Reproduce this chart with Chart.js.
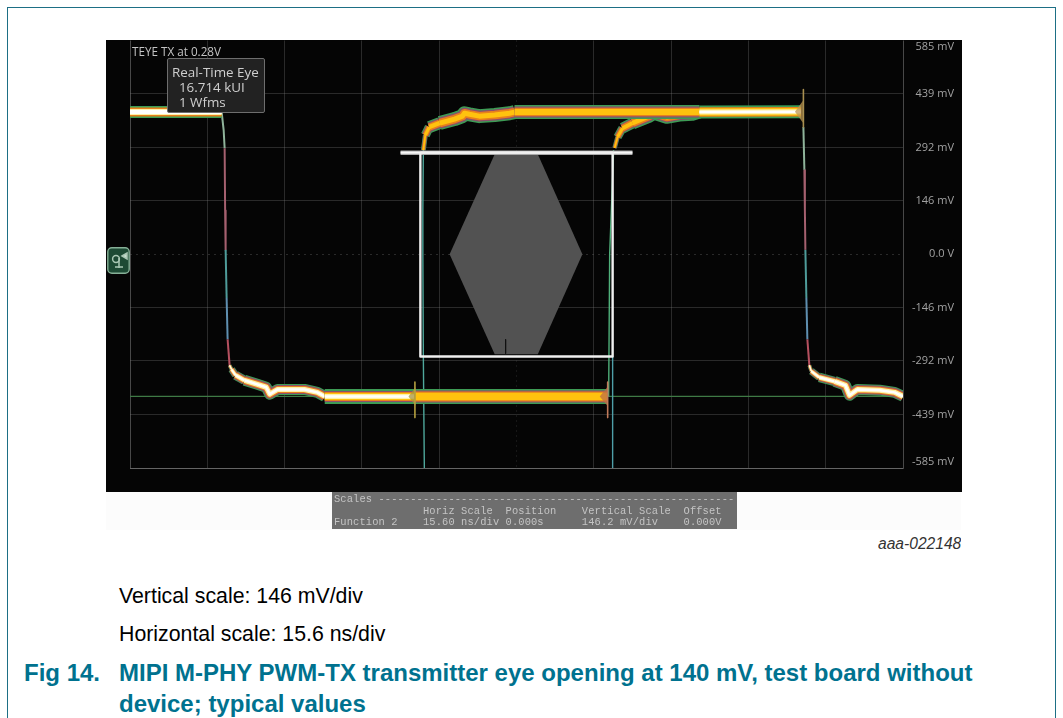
<!DOCTYPE html>
<html>
<head>
<meta charset="utf-8">
<title>MIPI M-PHY PWM-TX eye</title>
<script src="https://cdn.jsdelivr.net/npm/chart.js@4"></script>
<style>
  html, body { margin: 0; padding: 0; background: #fff; width: 1063px; height: 718px; overflow: hidden; font-family: "Liberation Sans", Arial, sans-serif; }
  .abs { position: absolute; white-space: pre; }
  #frameTop { position: absolute; left: 7px; right: 7px; top: 7px; height: 1px; background: #1d6f85; }
  #frameLeft { position: absolute; left: 7px; top: 7px; bottom: 0; width: 1px; background: #1d6f85; }
  #frameRight { position: absolute; right: 7px; top: 7px; bottom: 0; width: 1px; background: #1d6f85; }
  #scope { position: absolute; left: 106px; top: 40px; width: 856px; height: 452px; background: #050505; }
  #scope canvas { filter: blur(0.6px); }
  #haze { position: absolute; left: 106px; top: 492px; width: 855px; height: 38px; background: #fcfcfc; }
  #scales { position: absolute; left: 332px; top: 492px; width: 405px; height: 37px; background: #6e6e6e; color: #c4c4c4; font: 10.4px/11.5px "Liberation Mono", monospace; letter-spacing: 0.12px; filter: blur(0.5px); white-space: pre; padding-left: 2px; box-sizing: border-box; padding-top: 2px; overflow: hidden; }
  #teye { left: 132px; top: 43px; color: #c4c4c4; font: 11.7px "Open Sans", sans-serif; filter: blur(0.3px); }
  #readout { position: absolute; left: 167px; top: 58px; width: 98px; height: 55px; background: #222; border: 1px solid #6e6e6e; border-radius: 2px; color: #cfcfcf; font: 13.4px/15px "Open Sans", sans-serif; white-space: pre; padding: 6px 0 0 4px; box-sizing: border-box; filter: blur(0.3px); }
  #btn { position: absolute; left: 107px; top: 247px; width: 23px; height: 27px; filter: blur(0.5px); }
  #tag { left: 878px; top: 535px; width: 83px; overflow: hidden; color: #333; font: italic 15.6px "Liberation Sans", Arial, sans-serif; }
  .note { left: 119px; color: #000; font-size: 21.3px; }
  .fig { color: #00728f; font-weight: bold; font-size: 24px; }
</style>
</head>
<body>
<div id="frameTop"></div><div id="frameLeft"></div><div id="frameRight"></div>
<div id="haze"></div>
<div id="scope"><canvas id="eye" width="856" height="452"></canvas></div>
<div id="teye" class="abs">TEYE TX at 0.28V</div>
<div id="readout">Real-Time Eye
  16.714 kUI
  1 Wfms</div>
<svg id="btn" viewBox="0 0 23 27">
  <rect x="0.8" y="0.8" width="21.4" height="25.4" rx="4" fill="#1d4a34" stroke="#86b097" stroke-width="1.4"/>
  <circle cx="9" cy="12" r="3.4" fill="none" stroke="#a9c7b4" stroke-width="1.5"/>
  <path d="M12 11 L12 21 M15 9 L20 6 L20 12 Z M8 20 L16 20" stroke="#a9c7b4" stroke-width="1.5" fill="#c9dccf"/>
</svg>
<div id="scales">Scales --------------------------------------------------------
              Horiz Scale  Position    Vertical Scale  Offset
Function 2    15.60 ns/div 0.000s      146.2 mV/div    0.000V</div>
<div id="tag" class="abs">aaa-022148</div>
<div class="abs note" style="top:584px">Vertical scale: 146 mV/div</div>
<div class="abs note" style="top:622px">Horizontal scale: 15.6 ns/div</div>
<div class="abs fig" style="left:24px;top:659px">Fig 14.</div>
<div class="abs fig" style="left:119px;top:659px">MIPI M-PHY PWM-TX transmitter eye opening at 140 mV, test board without</div>
<div class="abs fig" style="left:119px;top:690px">device; typical values</div>

<script>
// axis ticks
const xTicks = [-78, -62.4, -46.8, -31.2, -15.6, 0, 15.6, 31.2, 46.8, 62.4, 78];
const xTickLabels = ["-78.0 ns", "-62.4 ns", "-46.8 ns", "-31.2 ns", "-15.6 ns", "0.0 s", "15.6 ns", "31.2 ns", "46.8 ns", "62.4 ns", "78.0 ns"];
const yTicks = [-585, -439, -292, -146, 0, 146, 292, 439, 585];
const yTickLabels = ["-585 mV", "-439 mV", "-292 mV", "-146 mV", "0.0 V", "146 mV", "292 mV", "439 mV", "585 mV"];

// waveform pieces, [ns, mV]
const highLeft = [[-78, 389], [-59.5, 389]];
const fallLeft = [[-59.5, 389], [-59.1, 340], [-58.9, 290], [-58.8, 120], [-58.7, 12], [-58.5, -120], [-58.3, -233], [-57.9, -304]];
const lowLeft = [[-57.9, -304], [-57.5, -315], [-56.7, -331], [-54.9, -345], [-52.3, -356], [-50.5, -364], [-49.8, -383], [-48.2, -370], [-42.8, -370], [-40.2, -378], [-38.7, -389]];
const lowFlat = [[-38.7, -389], [-20.6, -389]];
const eyeFlat = [[-20.6, -389], [18.4, -389]];
const riseA = [[-18.8, 285], [-18.4, 326], [-17.6, 348], [-15.5, 359], [-12.5, 370], [-10.9, 378], [-10.5, 386], [-9.5, 383], [-7.5, 378], [-4.4, 381], [-1.4, 386], [-0.4, 389]];
const topFlat = [[-0.4, 389], [36.9, 389]];
const riseB = [[19.8, 291], [20.4, 321], [21.4, 345], [23.4, 359], [26.8, 378], [27.8, 386], [30.3, 375], [32.9, 381], [35.5, 383], [36.9, 389]];
const highRight = [[36.9, 389], [57.4, 390]];
const fallRight = [[57.9, 348], [58.1, 230], [58.2, 120], [58.3, 12], [58.5, -120], [58.7, -233], [59.1, -304]];
const lowRight = [[59.1, -304], [59.5, -320], [61.1, -337], [64.2, -348], [66.4, -359], [67.2, -386], [68.8, -370], [73.3, -372], [76.3, -378], [78, -389]];
const edgeA = [[-18.8, 285], [-18.9, 120], [-18.9, 0], [-18.8, -280], [-18.6, -585]];
const edgeB = [[19.6, 285], [18.8, 0], [18.6, -389]];
const edgeC = [[19.4, -280], [19.4, -585]];
const cursor = [[-78, -389], [78, -389]];

// spikes where the traces meet
const spikeHigh = [[57.9, 451], [57.9, 348]];
const spikeLowA = [[-20.5, -350], [-20.5, -447]];
const spikeLowB = [[18.4, -350], [18.4, -447]];
const fanHigh = [[56.2, 390], [57.8, 420], [57.8, 360]];
const fanLowA = [[-21.8, -389], [-20.4, -364], [-20.4, -414]];
const fanLowB = [[16.8, -389], [18.3, -364], [18.3, -414]];

// eye mask
const maskBox = [[-19.4, 278], [19.4, 278], [19.4, -280], [-19.4, -280], [-19.4, 278]];
const maskBar = [[-23.4, 278], [23.4, 278]];
const eyeHex = [[-4.4, 274], [4.3, 274], [13.3, 0], [4.3, -274], [-4.4, -274], [-13.5, 0], [-4.4, 274]];
const eyeNotch = [[-2.2, -233], [-2.2, -272]];

const datasets = [];
function line(points, color, width, extra) {
  datasets.push(Object.assign({
    data: points.map((p) => ({ x: p[0], y: p[1] })),
    borderColor: color,
    borderWidth: width,
    showLine: true,
    pointRadius: 0,
    tension: 0,
    borderJoinStyle: "round",
    order: -datasets.length,
  }, extra || {}));
}
function band(points, layers, tapered) {
  const taper = [0.35, 0.65, 0.85];
  layers.forEach((l) => {
    const extra = tapered ? {
      segment: { borderWidth: (ctx) => l[1] * (ctx.p0DataIndex < taper.length ? taper[ctx.p0DataIndex] : 1) },
    } : {};
    line(points, l[0], l[1], extra);
  });
}

const GREEN = "#3d9c55", MAUVE = "#8d4f6c", ORANGE = "#e8801c", YELLOW = "#ffc20e", PALE = "#fff2a8", WHITE = "#ffffff";

// transition colour changes along the edge
const edgeSegment = {
  borderColor: (ctx) => {
    const y = ctx.p0.parsed.y;
    if (y > 300) return "#8fb39a";
    if (y > 100) return "#a5606f";
    if (y > -100) return "#4f9c9a";
    if (y > -230) return "#5f8fb0";
    return "#b5505f";
  },
};

line(eyeHex, "#525252", 0, { fill: "shape", backgroundColor: "#525252" });
line(eyeNotch, "#111111", 1);
line(cursor, "#3f7a45", 1.2);
line(edgeC, "#4f9fa8", 1.4);
line(edgeA, "#4fa89c", 1.4);
line(edgeB, "#4fb07a", 1.4);
line(fallLeft, "#4f9c9a", 2, { segment: edgeSegment });
line(fallRight, "#4f9c9a", 2, { segment: edgeSegment });

band(riseA, [[GREEN, 14], [MAUVE, 11], [ORANGE, 8.5], [YELLOW, 5]], true);
band(riseB, [[GREEN, 13], [MAUVE, 10], [ORANGE, 8], [YELLOW, 4.5]], true);
band(topFlat, [[GREEN, 14], [MAUVE, 11], [ORANGE, 8.5], [YELLOW, 6]]);
band(highRight, [[GREEN, 13], [ORANGE, 9.5], [YELLOW, 7.5], [PALE, 5], [WHITE, 2.5]]);
band(highLeft, [[GREEN, 12], [ORANGE, 9], [PALE, 6], [WHITE, 4]]);
band(lowLeft, [[GREEN, 11], [MAUVE, 9], [ORANGE, 7], [PALE, 5], [WHITE, 2.5]], true);
band(lowRight, [[GREEN, 11], [MAUVE, 9], [ORANGE, 7], [PALE, 5], [WHITE, 2.5]], true);
band(lowFlat, [[GREEN, 15], [MAUVE, 11], [ORANGE, 9], [YELLOW, 7], [PALE, 5], [WHITE, 2.5]]);
band(eyeFlat, [[GREEN, 15], [MAUVE, 12], [ORANGE, 10], [YELLOW, 7.5]]);

line(fanHigh, "#a5793f", 0, { fill: "shape", backgroundColor: "rgba(190,150,80,0.75)" });
line(fanLowA, "#8b7a35", 0, { fill: "shape", backgroundColor: "rgba(170,150,60,0.75)" });
line(fanLowB, "#a0683f", 0, { fill: "shape", backgroundColor: "rgba(190,110,70,0.75)" });
line(spikeHigh, "#a88f50", 1.6);
line(spikeLowA, "#b5a040", 1.6);
line(spikeLowB, "#c07a5a", 1.6);

line(maskBar, "#a8a8a8", 4.5);
line(maskBar, "#f8f8f8", 2.4);
line(maskBox, "#f0f0f0", 2.4);

const GRID = "rgba(130, 130, 130, 0.3)";
const LABEL = "#a2a2a2";

// tick labels sit next to the graticule, the outer ones are pulled inwards
const tickLabelsPlugin = {
  id: "tickLabels",
  afterDraw(chart) {
    const c = chart.ctx, sx = chart.scales.x, sy = chart.scales.y;
    c.save();
    c.fillStyle = LABEL;
    c.textBaseline = "middle";
    c.font = '10px "Open Sans", sans-serif';
    xTicks.forEach((v, i) => {
      const px = sx.getPixelForValue(v);
      c.textAlign = i === 0 ? "left" : "center";
      c.fillText(xTickLabels[i], i === xTicks.length - 1 ? px + 3 : px, sx.bottom + 16);
    });
    c.textAlign = "left";
    c.fillText("f2", 842, sx.bottom + 16);
    c.font = '11px "Open Sans", sans-serif';
    c.textAlign = "right";
    yTicks.forEach((v, i) => {
      let py = sy.getPixelForValue(v);
      if (i === 0) py -= 6;
      if (i === yTicks.length - 1) py += 6;
      c.fillText(yTickLabels[i], 848, py);
    });
    c.restore();
  },
};

new Chart(document.getElementById("eye"), {
  type: "scatter",
  data: { datasets },
  plugins: [tickLabelsPlugin],
  options: {
    responsive: false,
    animation: false,
    layout: { padding: { left: 24, top: 0.5, right: 0, bottom: 0 } },
    plugins: { legend: { display: false }, tooltip: { enabled: false } },
    scales: {
      x: {
        type: "linear",
        min: -78,
        max: 78,
        afterBuildTicks: (s) => { s.ticks = xTicks.map((v) => ({ value: v })); },
        afterFit: (s) => { s.height = 24; s.paddingLeft = 0; s.paddingRight = 0; },
        ticks: { display: false },
        border: { color: "rgba(130,130,130,0.5)", dash: (ctx) => (ctx.tick && ctx.tick.value === 0 ? [1, 4] : []) },
        grid: {
          drawTicks: false,
          color: (ctx) => (Math.abs(ctx.tick.value) === 78 ? "rgba(140,140,140,0.5)" : GRID),
        },
      },
      y: {
        type: "linear",
        position: "right",
        min: -585,
        max: 585,
        afterBuildTicks: (s) => { s.ticks = yTicks.map((v) => ({ value: v })); },
        afterFit: (s) => { s.width = 59; s.paddingTop = 0; s.paddingBottom = 0; },
        ticks: { display: false },
        border: { display: false, dash: (ctx) => (ctx.tick && ctx.tick.value === 0 ? [2, 4] : []) },
        grid: {
          drawTicks: false,
          color: (ctx) => (ctx.tick.value === 585 ? "transparent" : ctx.tick.value === -585 ? "rgba(140,140,140,0.5)" : GRID),
        },
      },
    },
  },
});
</script>
</body>
</html>
